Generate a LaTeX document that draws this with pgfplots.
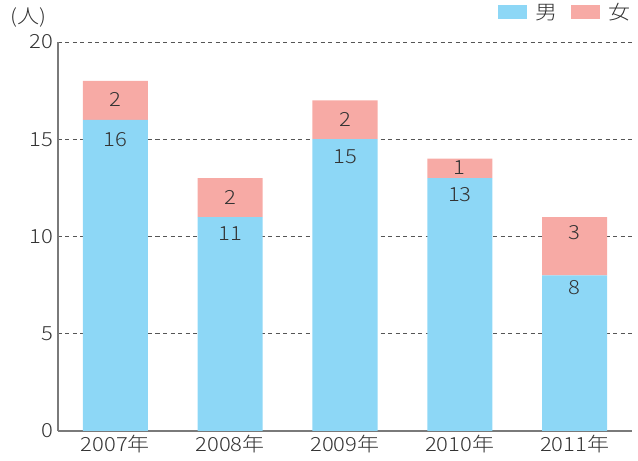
\documentclass[border=0pt]{standalone}
\usepackage{pgfplots}
\pgfplotsset{compat=1.18}
\usepackage{fontspec}
\setmainfont{Noto Sans CJK JP}[UprightFont={* Light}, FakeStretch=1.13]
\definecolor{male}{HTML}{8DD7F6}
\definecolor{female}{HTML}{F7AAA5}
\definecolor{txt}{HTML}{333333}
\definecolor{axisgray}{HTML}{7A7A7A}
\definecolor{gridgray}{HTML}{555555}
\pgfplotsset{basestyle/.style={
  at={(0pt,0pt)}, anchor=south west, scale only axis,
  width=574pt, height=389pt,
  xmin=-0.5, xmax=4.5, ymin=0, ymax=20,
}}
\begin{document}
\begin{tikzpicture}[font=\fontsize{19.5}{22}\selectfont, text=txt]
\begin{axis}[basestyle,
  ybar stacked, bar width=65pt,
  axis lines*=left,
  axis line style={axisgray, line width=1.2pt},
  xtick={0,1,2,3,4},
  xticklabels={2007年,2008年,2009年,2010年,2011年},
  ytick={0,5,10,15,20},
  ymajorgrids, grid style={dashed, gridgray, line width=0.7pt, dash pattern=on 4pt off 3.5pt},
  major tick length=0pt,
  /pgf/number format/assume math mode=true,
  yticklabel style={inner sep=1pt, xshift=-4pt, text=txt},
  xticklabel style={inner sep=1pt, yshift=-3pt, text=txt},
  clip=false,
  legend style={draw=none, fill=none, legend columns=2,
    at={(axis description cs:1.006,1.11)}, anchor=north east,
    /tikz/every odd column/.append style={column sep=6pt},
    /tikz/every even column/.append style={column sep=12pt},
    nodes={text=txt, inner sep=2pt}},
]
\addplot[fill=male, draw=none, legend image code/.code={\fill[male] (0pt,-7pt) rectangle (29pt,7pt);}]
  coordinates {(0,16) (1,11) (2,15) (3,13) (4,8)};
\addplot[fill=female, draw=none, legend image code/.code={\fill[female] (0pt,-7pt) rectangle (29pt,7pt);}]
  coordinates {(0,2) (1,2) (2,2) (3,1) (4,3)};
\legend{男,女}
\node[text=txt] at (axis description cs:-0.052,1.062) {(人)};
\end{axis}
\begin{axis}[basestyle, hide axis]
\addplot[draw=none, mark=none, nodes near coords, point meta=explicit symbolic,
  every node near coord/.append style={anchor=center, text=txt}]
  coordinates {(0,15.0)[16] (1,10.13)[11] (2,14.09)[15] (3,12.13)[13] (4,7.35)[8]
               (0,17.07)[2] (1,12.03)[2] (2,16.0)[2] (3,13.52)[1] (4,10.18)[3]};
\end{axis}
\pgfresetboundingbox
\path (-58pt,-30pt) rectangle (580pt,431pt);
\end{tikzpicture}
\end{document}
